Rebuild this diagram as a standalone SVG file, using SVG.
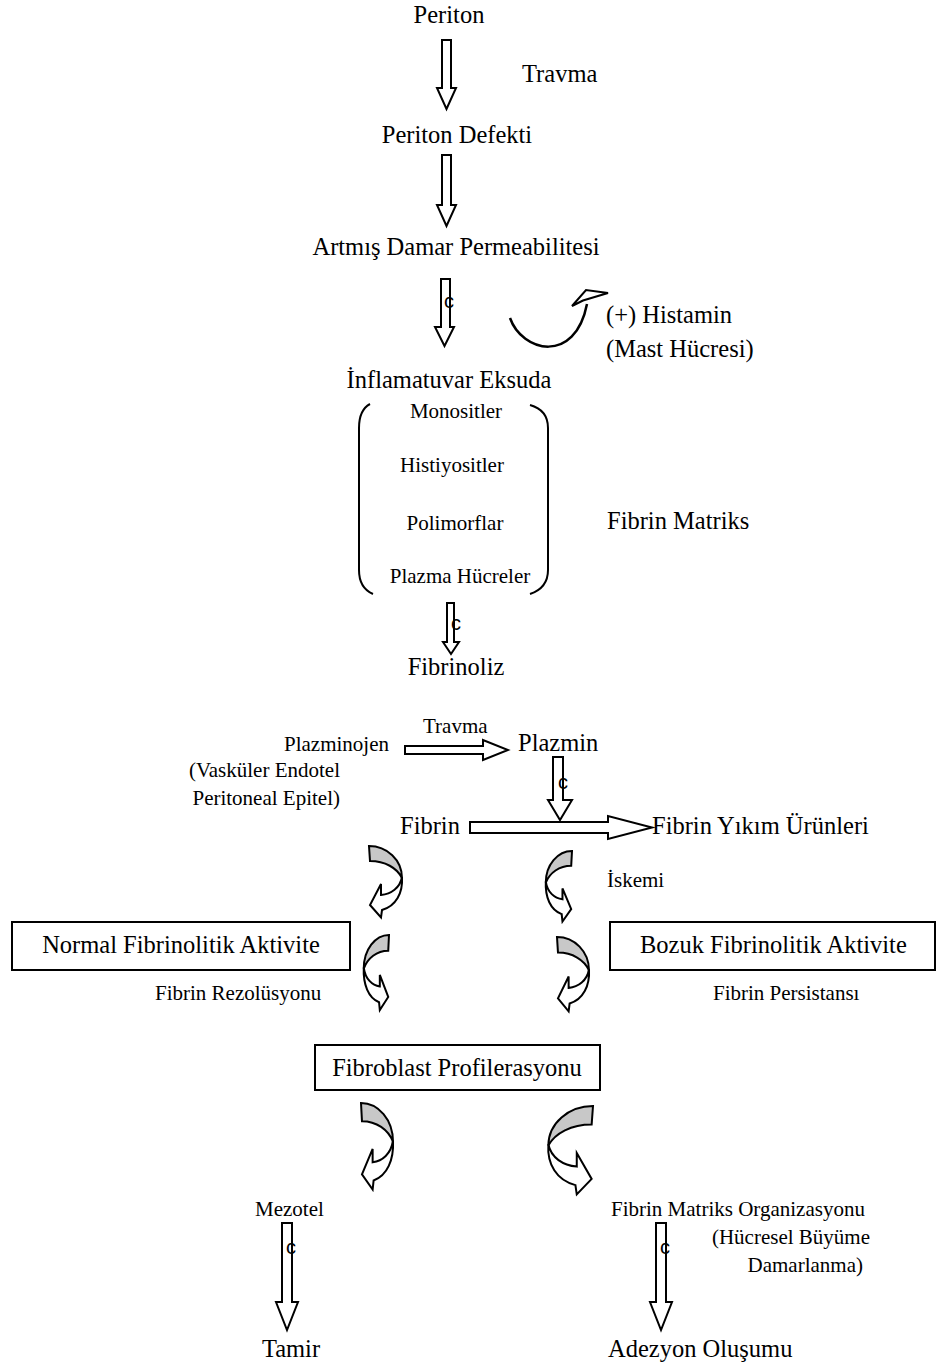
<svg xmlns="http://www.w3.org/2000/svg" width="936" height="1365" viewBox="0 0 936 1365">
<style>
text{font-family:"Liberation Serif","Times New Roman",serif;fill:#000}
.big{font-size:24.5px}
.sm{font-size:21px}
.c{font-family:"Liberation Sans",Arial,sans-serif;font-size:20px}
.mid{text-anchor:middle}
.end{text-anchor:end}
.blk{fill:#fff;stroke:#000;stroke-width:2;stroke-linejoin:miter}
.box{fill:#fff;stroke:#000;stroke-width:2}
.ln{fill:none;stroke:#000;stroke-width:2.5}
.g{fill:#c8c8c8;stroke:#000;stroke-width:2;vector-effect:non-scaling-stroke}
.w{fill:#fff;stroke:#000;stroke-width:2;vector-effect:non-scaling-stroke}
</style>
<defs>
<g id="ca">
<path class="g" d="M0,0 C18,0 33,14 33,32 C28,22 16,15 1,15 Z"/>
<path class="w" d="M33,31 C34,47 27,60 13,64 L12,71.5 L1,59 L12,38 L12,49 C22,48 31,42 33,31 Z"/>
</g>
</defs>

<g id="connectors">
<polygon class="blk" points="442,40 451,40 451,88 456,88 446.5,109 437,88 442,88"/>
<polygon class="blk" points="442,155 451,155 451,205 456,205 446.5,226 437,205 442,205"/>
<polygon class="blk" points="441,279 450,279 450,327 454,327 444.5,346 435,327 441,327"/>
<polygon class="blk" points="447,603 454,603 454,642 459,642 451,654 443,642 447,642"/>
<polygon class="blk" points="405,746 483,746 483,740 508,750 483,760 483,754 405,754"/>
<polygon class="blk" points="553,757 563,757 563,800 572,800 560,820 548,800 553,800"/>
<polygon class="blk" points="470,822 608,822 608,816 652,827.5 608,839 608,833 470,833"/>
<polygon class="blk" points="282,1223 292,1223 292,1302 298,1302 287,1330 276,1302 282,1302"/>
<polygon class="blk" points="656,1223 666,1223 666,1302 672,1302 661,1330 650,1302 656,1302"/>
<path class="ln" d="M510,318 C522,352 575,365 587,304"/>
<polygon class="blk" points="572,306 586,290 608,293 583,300.5"/>
<use href="#ca" transform="translate(369,846)"/>
<use href="#ca" transform="translate(572,851) scale(-0.794,0.986)"/>
<use href="#ca" transform="translate(389,935) scale(-0.765,1.05)"/>
<use href="#ca" transform="translate(557,937) scale(0.97,1.04)"/>
<use href="#ca" transform="translate(361,1103) scale(0.97,1.21)"/>
<use href="#ca" transform="translate(593,1106) scale(-1.353,1.236)"/>
</g>

<g id="n-periton"><text class="big mid" x="449" y="23">Periton</text></g>
<g id="l-travma1"><text class="big" x="522" y="82">Travma</text></g>
<g id="n-defekt"><text class="big mid" x="457" y="143">Periton Defekti</text></g>
<g id="n-permeabilite"><text class="big mid" x="456" y="255">Artmış Damar Permeabilitesi</text></g>
<g id="l-c1"><text class="c" x="444" y="308">c</text></g>
<g id="n-histamin"><text class="big" x="606" y="323">(+) Histamin</text><text class="big" x="606" y="357">(Mast Hücresi)</text></g>
<g id="n-eksuda"><text class="big mid" x="449" y="388">İnflamatuvar Eksuda</text></g>
<g id="n-cells">
<path class="ln" style="stroke-width:2" d="M370,404 Q359,410 359,428 L359,570 Q359,588 373,594"/>
<path class="ln" style="stroke-width:2" d="M530,405 Q548,410 548,428 L548,570 Q548,588 530,594"/>
<text class="sm mid" x="456" y="418">Monositler</text>
<text class="sm mid" x="452" y="472">Histiyositler</text>
<text class="sm mid" x="455" y="530">Polimorflar</text>
<text class="sm mid" x="460" y="583">Plazma Hücreler</text>
</g>
<g id="n-matriks"><text class="big" x="607" y="529">Fibrin Matriks</text></g>
<g id="l-c2"><text class="c" x="451" y="630">c</text></g>
<g id="n-fibrinoliz"><text class="big mid" x="456" y="675">Fibrinoliz</text></g>
<g id="l-travma2"><text class="sm" x="423" y="733">Travma</text></g>
<g id="n-plazminojen"><text class="sm" x="284" y="751">Plazminojen</text><text class="sm end" x="340" y="777">(Vasküler Endotel</text><text class="sm end" x="340" y="805">Peritoneal Epitel)</text></g>
<g id="n-plazmin"><text class="big" x="518" y="751">Plazmin</text></g>
<g id="l-c3"><text class="c" x="558" y="789">c</text></g>
<g id="n-fibrin"><text class="big" x="400" y="834">Fibrin</text></g>
<g id="n-fyu"><text class="big" x="652" y="834">Fibrin Yıkım Ürünleri</text></g>
<g id="l-iskemi"><text class="sm" x="607" y="887">İskemi</text></g>
<g id="n-normal"><rect class="box" x="12" y="922" width="338" height="48"/><text class="big mid" x="181" y="953">Normal Fibrinolitik Aktivite</text></g>
<g id="n-bozuk"><rect class="box" x="610" y="922" width="325" height="48"/><text class="big" x="640" y="953">Bozuk Fibrinolitik Aktivite</text></g>
<g id="l-rezolusyon"><text class="sm" x="155" y="1000">Fibrin Rezolüsyonu</text></g>
<g id="l-persistans"><text class="sm" x="713" y="1000">Fibrin Persistansı</text></g>
<g id="n-fibroblast"><rect class="box" x="315" y="1045" width="285" height="45"/><text class="big mid" x="457" y="1076">Fibroblast Profilerasyonu</text></g>
<g id="n-mezotel"><text class="sm" x="255" y="1216">Mezotel</text></g>
<g id="n-organizasyon"><text class="sm" x="611" y="1216">Fibrin Matriks Organizasyonu</text><text class="sm end" x="870" y="1244">(Hücresel Büyüme</text><text class="sm end" x="863" y="1272">Damarlanma)</text></g>
<g id="l-c4"><text class="c" x="286" y="1254">c</text></g>
<g id="l-c5"><text class="c" x="660" y="1254">c</text></g>
<g id="n-tamir"><text class="big mid" x="291" y="1357">Tamir</text></g>
<g id="n-adezyon"><text class="big" x="608" y="1357">Adezyon Oluşumu</text></g>
</svg>
